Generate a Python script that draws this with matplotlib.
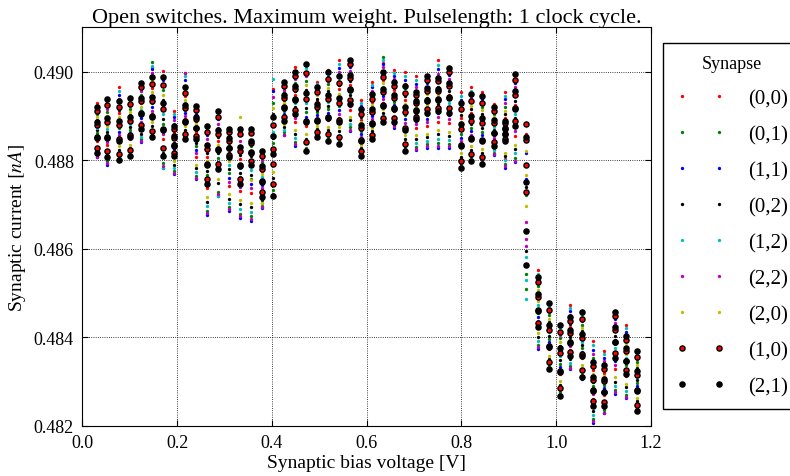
import matplotlib
matplotlib.use('Agg')
import matplotlib.pyplot as plt
import numpy as np
from matplotlib.ticker import FormatStrFormatter

plt.rcParams['font.family'] = ['Liberation Serif', 'DejaVu Serif']
plt.rcParams['mathtext.fontset'] = 'stix'

# Synaptic bias voltage [V], one column of readings per voltage
bias_voltage = [0.030, 0.053, 0.077, 0.100, 0.123, 0.146, 0.170, 0.193, 0.216, 0.239,
                0.263, 0.286, 0.309, 0.332, 0.356, 0.379, 0.402, 0.426, 0.449, 0.472,
                0.495, 0.519, 0.542, 0.565, 0.588, 0.612, 0.635, 0.658, 0.681, 0.705,
                0.728, 0.751, 0.774, 0.798, 0.821, 0.844, 0.868, 0.891, 0.914, 0.937,
                0.961, 0.984, 1.007, 1.030, 1.054, 1.077, 1.100, 1.123, 1.147, 1.170]

# Synaptic current readings, in units of 1e-5 nA above 0.48 nA
# (one tuple of repeated measurements per bias voltage)
syn_00 = [(928, 885, 843), (937, 886, 834), (964, 906, 848), (943, 895, 847), (975, 928, 880),
          (1010, 962, 903), (1002, 925, 848), (911, 861, 811), (996, 944, 892), (922, 864, 806),
          (877, 807, 736), (911, 844, 777), (873, 807, 741), (873, 802, 730), (873, 799, 725),
          (821, 776, 730), (960, 791, 747), (977, 935, 893), (1010, 948, 885), (1019, 949, 878),
          (977, 933, 890), (1003, 947, 891), (1026, 960, 894), (1026, 970, 914), (935, 891, 847),
          (977, 932, 886), (1020, 981, 929), (1003, 958, 912), (998, 936, 874), (990, 931, 872),
          (990, 933, 877), (1025, 956, 887), (1010, 946, 883), (953, 894, 834), (965, 907, 848),
          (953, 897, 840), (926, 886, 846), (954, 894, 802), (994, 924, 855), (881, 858, 790),
          (552, 490, 427), (479, 426, 373), (429, 373, 316), (473, 422, 372), (459, 405, 352),
          (391, 326, 261), (368, 319, 270), (460, 394, 328), (428, 370, 312), (372, 324, 275)]

syn_01 = [(904, 861, 812), (908, 856, 797), (931, 873, 806), (916, 868, 813), (948, 901, 847),
          (1022, 928, 860), (958, 881, 793), (882, 832, 775), (966, 914, 854), (889, 831, 765),
          (837, 766, 686), (873, 805, 729), (835, 770, 694), (832, 761, 679), (831, 757, 673),
          (795, 749, 697), (930, 838, 732), (953, 911, 863), (974, 912, 841), (979, 908, 828),
          (952, 908, 858), (971, 915, 851), (988, 922, 846), (994, 938, 874), (910, 866, 815),
          (951, 905, 853), (1033, 952, 892), (977, 931, 879), (963, 901, 830), (956, 898, 830),
          (958, 901, 836), (986, 917, 838), (974, 910, 837), (919, 859, 791), (932, 873, 806),
          (921, 864, 800), (903, 863, 817), (920, 860, 792), (954, 885, 805), (720, 543, 509),
          (516, 454, 383), (449, 396, 336), (397, 340, 276), (444, 393, 335), (428, 375, 314),
          (354, 289, 215), (340, 291, 235), (422, 356, 280), (395, 337, 270), (344, 296, 241)]

syn_11 = [(916, 855, 806), (922, 849, 790), (947, 864, 798), (929, 861, 806), (961, 894, 840),
          (1005, 920, 852), (980, 870, 782), (897, 825, 768), (981, 907, 847), (905, 823, 757),
          (857, 756, 676), (892, 796, 719), (854, 760, 685), (873, 751, 669), (873, 746, 662),
          (808, 743, 691), (957, 825, 719), (965, 905, 857), (992, 903, 832), (999, 898, 818),
          (964, 902, 852), (987, 907, 843), (1007, 913, 837), (1010, 930, 866), (922, 859, 809),
          (964, 899, 847), (1018, 944, 885), (990, 925, 873), (980, 892, 821), (973, 889, 822),
          (974, 893, 828), (1005, 907, 828), (992, 901, 828), (936, 851, 783), (948, 865, 798),
          (937, 856, 792), (914, 857, 811), (937, 851, 783), (974, 875, 795), (817, 757, 730),
          (534, 445, 374), (464, 388, 328), (413, 332, 268), (458, 386, 328), (444, 367, 306),
          (372, 280, 206), (354, 284, 228), (441, 347, 271), (411, 328, 262), (358, 289, 234)]

syn_02 = [(891, 867, 824), (893, 863, 812), (914, 881, 823), (902, 874, 827), (934, 907, 860),
          (971, 937, 877), (936, 892, 815), (868, 839, 789), (951, 921, 869), (872, 839, 782),
          (817, 776, 706), (853, 815, 748), (817, 779, 713), (812, 771, 700), (810, 767, 694),
          (782, 756, 710), (904, 851, 759), (941, 917, 875), (957, 921, 859), (959, 918, 848),
          (939, 914, 871), (955, 923, 867), (969, 931, 865), (978, 946, 890), (897, 872, 828),
          (938, 912, 866), (989, 959, 907), (964, 938, 892), (945, 909, 848), (940, 906, 847),
          (941, 909, 852), (966, 926, 858), (955, 919, 855), (902, 868, 808), (915, 881, 823),
          (905, 872, 816), (891, 868, 828), (903, 868, 809), (934, 894, 825), (740, 595, 562),
          (499, 463, 401), (434, 403, 351), (381, 348, 292), (429, 400, 350), (413, 382, 329),
          (335, 298, 234), (326, 298, 249), (403, 365, 299), (378, 345, 287), (331, 303, 255)]

syn_12 = [(922, 873, 818), (930, 871, 805), (956, 889, 815), (936, 881, 820), (968, 914, 853),
          (1013, 945, 869), (991, 903, 782), (904, 847, 782), (989, 929, 862), (914, 848, 773),
          (867, 787, 696), (901, 825, 719), (864, 788, 704), (863, 781, 689), (862, 778, 683),
          (821, 762, 704), (983, 864, 745), (971, 923, 869), (1001, 930, 850), (1009, 929, 838),
          (971, 921, 864), (995, 931, 859), (1017, 941, 856), (1018, 954, 882), (929, 878, 822),
          (970, 918, 860), (1026, 966, 900), (996, 944, 886), (989, 918, 839), (982, 914, 839),
          (982, 917, 844), (1015, 936, 848), (1001, 928, 846), (944, 876, 800), (957, 890, 815),
          (945, 881, 808), (920, 874, 822), (945, 877, 800), (984, 904, 815), (582, 529, 486),
          (543, 472, 392), (471, 411, 343), (421, 357, 284), (466, 408, 342), (451, 390, 321),
          (382, 308, 224), (361, 305, 242), (451, 375, 290), (420, 353, 279), (365, 310, 248)]

syn_22 = [(910, 849, 808), (915, 841, 793), (939, 856, 801), (922, 854, 809), (955, 887, 843),
          (996, 911, 855), (969, 859, 786), (890, 818, 771), (996, 899, 850), (897, 815, 760),
          (847, 746, 680), (882, 786, 723), (845, 751, 689), (842, 740, 673), (841, 736, 666),
          (801, 736, 694), (943, 811, 724), (959, 899, 857), (983, 894, 836), (989, 888, 822),
          (958, 896, 854), (979, 899, 846), (998, 903, 841), (1002, 922, 869), (916, 853, 812),
          (957, 892, 850), (1011, 937, 888), (983, 918, 876), (971, 883, 825), (965, 881, 825),
          (966, 885, 831), (995, 897, 832), (983, 892, 832), (927, 842, 786), (940, 856, 801),
          (929, 848, 795), (909, 851, 813), (928, 843, 786), (964, 865, 799), (660, 621, 606),
          (525, 436, 378), (456, 381, 331), (405, 324, 271), (451, 379, 331), (436, 360, 309),
          (363, 271, 210), (347, 277, 228), (432, 337, 275), (403, 320, 265), (351, 282, 237)]

syn_20 = [(897, 879, 830), (900, 878, 819), (922, 898, 831), (909, 888, 833), (941, 921, 867),
          (979, 954, 886), (947, 914, 826), (875, 854, 797), (959, 936, 877), (881, 856, 790),
          (827, 797, 716), (863, 834, 757), (826, 798, 723), (897, 791, 710), (820, 755, 704),
          (788, 769, 703), (917, 877, 772), (947, 929, 881), (965, 939, 868), (969, 939, 858),
          (946, 927, 877), (963, 939, 875), (979, 950, 875), (986, 962, 898), (903, 885, 834),
          (944, 925, 873), (996, 974, 915), (970, 951, 899), (954, 927, 856), (948, 923, 856),
          (949, 925, 860), (976, 946, 867), (964, 937, 864), (910, 885, 817), (923, 898, 831),
          (913, 889, 824), (897, 880, 834), (911, 886, 817), (944, 914, 835), (821, 766, 697),
          (507, 481, 410), (441, 419, 358), (389, 365, 300), (437, 415, 357), (421, 398, 337),
          (345, 317, 243), (333, 312, 256), (413, 384, 309), (386, 362, 295), (337, 317, 262)]

syn_10 = [(910, 879, 853, 827), (924, 885, 853, 821), (920, 880, 847, 813), (927, 888, 856, 823),
          (964, 933, 907, 880), (973, 933, 899, 865), (969, 916, 871, 827), (870, 850, 833, 816),
          (952, 917, 888, 859), (914, 892, 873, 855), (864, 824, 791, 758), (898, 858, 825, 792),
          (864, 844, 828, 812), (858, 820, 789, 758), (862, 838, 818, 798), (810, 779, 753, 727),
          (879, 826, 791, 747), (967, 941, 919, 897), (989, 960, 937, 913), (996, 938, 889, 840),
          (953, 919, 891, 863), (984, 937, 898, 859), (975, 929, 891, 852), (1016, 986, 961, 936),
          (904, 873, 846, 820), (939, 908, 883, 857), (987, 953, 925, 896), (968, 941, 918, 895),
          (952, 909, 872, 836), (947, 929, 913, 898), (981, 956, 936, 915), (978, 956, 937, 918),
          (999, 968, 943, 917), (915, 871, 834, 798), (934, 889, 851, 813), (930, 884, 846, 807),
          (910, 884, 862, 841), (884, 870, 859, 848), (982, 947, 918, 889), (881, 845, 790, 728),
          (524, 490, 462, 433), (462, 417, 380, 343), (412, 364, 324, 284), (436, 410, 388, 367),
          (441, 398, 361, 325), (334, 304, 280, 255), (327, 300, 277, 254), (447, 416, 390, 364),
          (394, 369, 347, 326), (356, 315, 281, 247)]

syn_21 = [(920, 886, 851, 817), (937, 894, 851, 808), (933, 889, 844, 800), (940, 897, 853, 810),
          (975, 940, 905, 870), (987, 942, 897, 852), (987, 928, 868, 809), (877, 855, 831, 809),
          (964, 925, 886, 847), (922, 897, 872, 847), (877, 833, 789, 745), (911, 867, 823, 779),
          (870, 849, 827, 806), (870, 829, 787, 746), (870, 844, 816, 790), (821, 786, 751, 716),
          (897, 855, 813, 719), (976, 947, 917, 888), (998, 967, 935, 904), (1016, 951, 885, 820),
          (964, 927, 889, 852), (1000, 948, 895, 843), (990, 940, 887, 837), (1026, 993, 959, 926),
          (915, 880, 844, 809), (949, 915, 881, 847), (998, 961, 922, 885), (977, 947, 916, 886),
          (967, 919, 869, 821), (953, 933, 912, 892), (989, 962, 934, 907), (986, 961, 936, 911),
          (1009, 975, 941, 907), (930, 881, 832, 783), (949, 899, 848, 798), (945, 895, 842, 792),
          (919, 890, 861, 832), (888, 873, 858, 843), (994, 955, 916, 877), (853, 750, 640, 562),
          (535, 498, 459, 422), (477, 428, 377, 328), (428, 375, 321, 268), (445, 416, 387, 358),
          (456, 408, 358, 310), (344, 311, 278, 245), (336, 306, 275, 245), (457, 423, 388, 354),
          (403, 375, 345, 317), (369, 324, 279, 234)]

synapse_labels = ['(0,0)', '(0,1)', '(1,1)', '(0,2)', '(1,2)', '(2,2)', '(2,0)', '(1,0)', '(2,1)']
synapse_readings = [syn_00, syn_01, syn_11, syn_02, syn_12, syn_22, syn_20, syn_10, syn_21]

small = dict(marker='o', markersize=2.4, markeredgewidth=0)
styles = [dict(color='r', **small),
          dict(color=(0, 0.5, 0), **small),
          dict(color='b', **small),
          dict(color='k', **small),
          dict(color=(0, 0.75, 0.75), **small),
          dict(color=(0.75, 0, 0.75), **small),
          dict(color=(0.75, 0.75, 0), **small),
          dict(marker='o', markersize=3.7, markerfacecolor='r', markeredgecolor='k', markeredgewidth=1.0),
          dict(marker='o', markersize=3.7, color='k')]

fig = plt.figure(figsize=(7.9, 4.77), dpi=100)
ax = fig.add_axes([0.1042, 0.1055, 0.7199, 0.8352])

for readings, label, style in zip(synapse_readings, synapse_labels, styles):
    xs = np.repeat(bias_voltage, [len(r) for r in readings])
    ys = 0.48 + np.concatenate(readings) * 1e-5
    ax.plot(xs, ys, linestyle='none', label=label, **style)

ax.set_xlim(0, 1.2)
ax.set_ylim(0.482, 0.491)
ax.set_yticks([0.482, 0.484, 0.486, 0.488, 0.490])
ax.xaxis.set_major_formatter(FormatStrFormatter('%.1f'))
ax.yaxis.set_major_formatter(FormatStrFormatter('%.3f'))
ax.tick_params(direction='in', top=True, right=True, length=4, labelsize=13, pad=6)
ax.grid(True, color='k', linestyle=':', linewidth=0.6)

ax.set_title('Open switches. Maximum weight. Pulselength: 1 clock cycle.', fontsize=16, pad=4)
ax.set_xlabel('Synaptic bias voltage [V]', fontsize=14, labelpad=2)
ax.set_ylabel(r'Synaptic current $[nA]$', fontsize=14)

leg = ax.legend(title='Synapse', loc='upper left', bbox_to_anchor=(0.839, 0.908),
                bbox_transform=fig.transFigure, numpoints=2, fontsize=15, title_fontsize=13,
                labelspacing=0.79, handlelength=2.4, handletextpad=1.1, borderpad=0.6,
                borderaxespad=0, fancybox=False, edgecolor='k', framealpha=1)
leg.get_frame().set_linewidth(1)

fig.savefig('out.png', dpi=100)
